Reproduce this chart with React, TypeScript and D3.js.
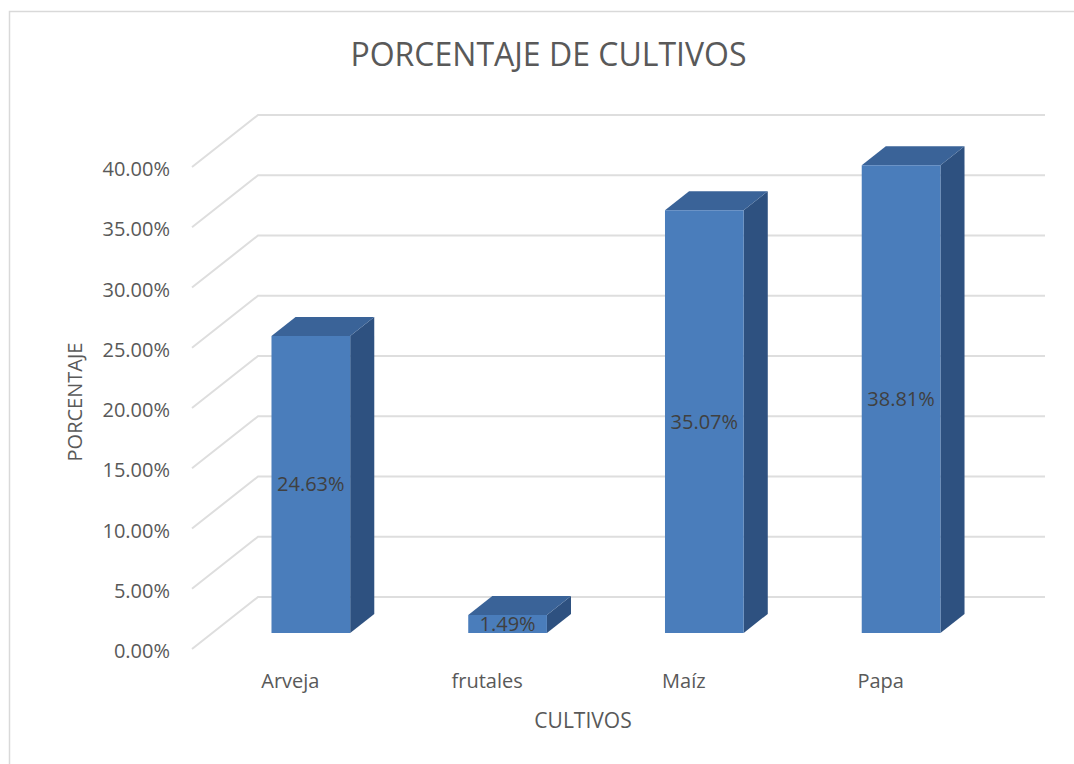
import React from "react";
import * as d3 from "d3";

const categories = ["Arveja", "frutales", "Maíz", "Papa"];
const values = [24.63, 1.49, 35.07, 38.81];
const yTicks = [0, 5, 10, 15, 20, 25, 30, 35, 40];
const title = "PORCENTAJE DE CULTIVOS";
const xTitle = "CULTIVOS";
const yTitle = "PORCENTAJE";

const W = 1074;
const H = 764;
const FONT = "'Open Sans', 'DejaVu Sans', sans-serif";
const TEXT = "#595959";

// depth projection
const DX = 66;
const DY = -52;
const F0 = 0.31;
const F1 = 0.675;

export default function App() {
  const x = d3.scaleBand<string>().domain(categories).range([192, 979]).padding(0);
  const y = d3.scaleLinear().domain([0, 40]).range([649, 167]);
  const bw = x.bandwidth();
  const proj = (xf: number, v: number, f: number): [number, number] => [xf + f * DX, y(v) + f * DY];
  const poly = (pts: [number, number][]) => pts.map((p) => p.join(",")).join(" ");

  return (
    <svg width={W} height={H} style={{ position: "absolute", left: 0, top: 0, background: "#fff" }}>
      <rect x={9.5} y={11.5} width={1100} height={800} fill="#fff" stroke="#d9d9d9" strokeWidth={1.5} />
      <text x={548.5} y={66} textAnchor="middle" fontFamily={FONT} fontSize={32} fill={TEXT}>
        {title}
      </text>
      {yTicks.map((t) => {
        const a = proj(192, t, 0);
        const b = proj(192, t, 1);
        const c = proj(979, t, 1);
        return (
          <g key={t}>
            <polyline points={poly([a, b, c])} fill="none" stroke="#dedede" strokeWidth={2} />
            <text x={170} y={y(t) + 9} textAnchor="end" fontFamily={FONT} fontSize={20} fill={TEXT}>
              {t.toFixed(2) + "%"}
            </text>
          </g>
        );
      })}
      {categories.map((c, i) => {
        const v = values[i];
        const L = (x(c) as number) + 0.3 * bw;
        const R = L + 0.4 * bw;
        const front = [proj(L, 0, F0), proj(R, 0, F0), proj(R, v, F0), proj(L, v, F0)];
        const top = [proj(L, v, F0), proj(R, v, F0), proj(R, v, F1), proj(L, v, F1)];
        const side = [proj(R, 0, F0), proj(R, 0, F1), proj(R, v, F1), proj(R, v, F0)];
        const cx = (L + R) / 2 + F0 * DX;
        const cy = (y(0) + y(v)) / 2 + F0 * DY;
        return (
          <g key={c}>
            <polygon points={poly(side)} fill="#2e5180" />
            <polygon points={poly(top)} fill="#3a6398" />
            <polygon points={poly(front)} fill="#4a7dbb" />
            <text x={cx} y={cy + 7} textAnchor="middle" fontFamily={FONT} fontSize={20} fill="#404040">
              {v.toFixed(2) + "%"}
            </text>
            <text x={(x(c) as number) + bw / 2} y={688} textAnchor="middle" fontFamily={FONT} fontSize={20} fill={TEXT}>
              {c}
            </text>
          </g>
        );
      })}
      <text x={583} y={728} textAnchor="middle" fontFamily={FONT} fontSize={21} fill={TEXT}>
        {xTitle}
      </text>
      <text transform="translate(82,402) rotate(-90)" textAnchor="middle" fontFamily={FONT} fontSize={20} fill={TEXT}>
        {yTitle}
      </text>
    </svg>
  );
}
